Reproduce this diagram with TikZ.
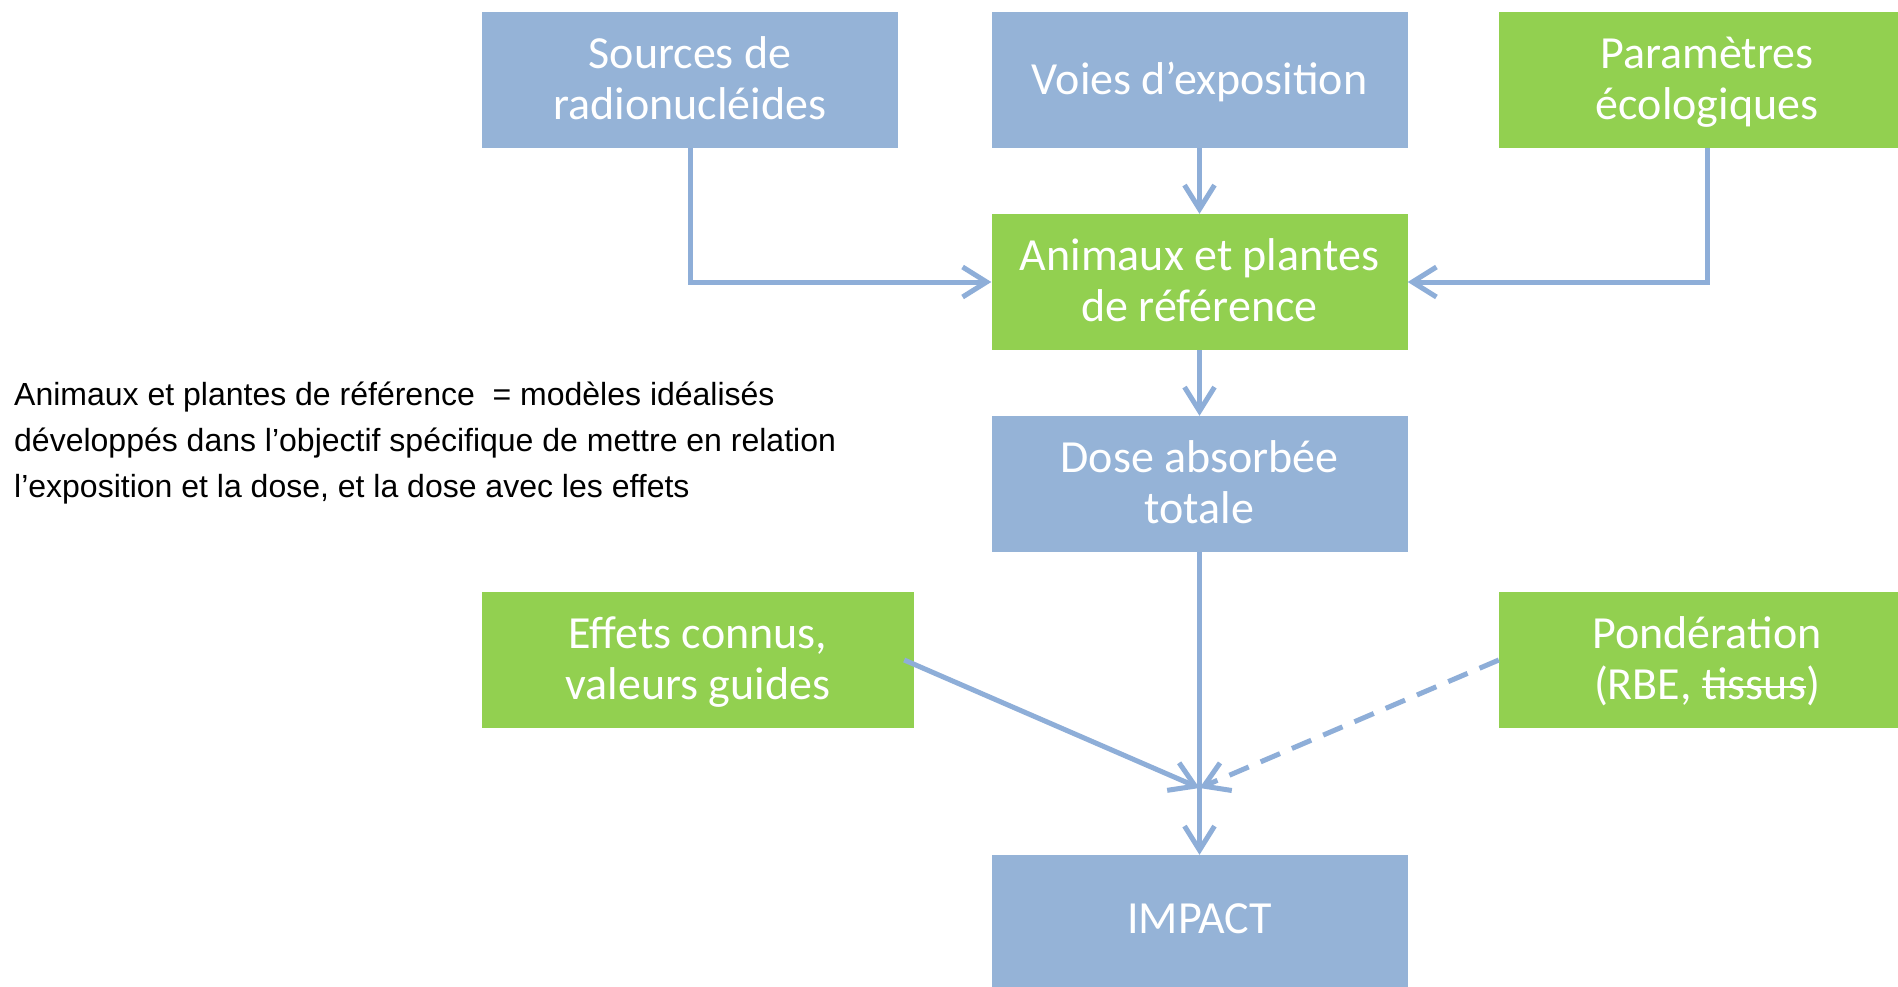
\documentclass[tikz,border=0pt]{standalone}
\usepackage{fontspec}
\setmainfont{Carlito}
\newfontfamily\arialf{Liberation Sans}
\usetikzlibrary{arrows.meta}
\definecolor{boxblue}{HTML}{95B3D7}
\definecolor{boxgreen}{HTML}{92D050}
\definecolor{linkblue}{HTML}{8EAED8}
\newcommand\mystrike[1]{\setbox0\hbox{#1}\rlap{\copy0}\rule[0.24em]{\wd0}{0.05em}}
\begin{document}
\begin{tikzpicture}[x=1pt,y=-1pt,
  box/.style={minimum width=416pt, minimum height=136pt, inner sep=0pt, text=white,
    font=\fontsize{46}{51}\selectfont, align=center, text depth=4pt},
  link/.style={draw=linkblue, line width=5pt,
    -{Straight Barb[length=24pt,width=30pt]}},
  dashlink/.style={link, dash pattern=on 21pt off 13pt}
]
\useasboundingbox (0,0) rectangle (1898,987);
\fill[white] (0,0) rectangle (1898,987);
\node[box,fill=boxblue] (src) at (690,80) {Sources de\\radionucléides};
\node[box,fill=boxblue] (voies) at (1199.5,80) {Voies d’exposition};
\node[box,fill=boxgreen] (param) at (1707,80) {Paramètres\\écologiques};
\node[box,fill=boxgreen] (anim) at (1199.5,282) {Animaux et plantes\\de référence};
\node[box,fill=boxblue] (dose) at (1199.5,484) {Dose absorbée\\totale};
\node[box,fill=boxgreen,minimum width=432pt] (eff) at (698,660) {Effets connus,\\valeurs guides};
\node[box,fill=boxgreen] (pond) at (1707,660) {Pondération\\(RBE, \mystrike{tissus})};
\node[box,fill=boxblue,minimum height=132pt] (imp) at (1199.5,921) {IMPACT};
\coordinate (m) at (1199.5,788);
\node[anchor=west, inner sep=0pt, align=left, font=\arialf\fontsize{32}{46}\selectfont] (note) at (14,443)
  {Animaux et plantes de référence\ \ = modèles idéalisés\\
   développés dans l’objectif spécifique de mettre en relation\\
   l’exposition et la dose, et la dose avec les effets};
\draw[link] (src.south) |- (anim.west);
\draw[link] (param.south) |- (anim.east);
\draw[link] (voies.south) -- (anim.north);
\draw[link] (anim.south) -- (dose.north);
\draw[link] (dose.south) -- (imp.north);
\draw[link] ([xshift=-10pt]eff.east) -- (m);
\draw[dashlink] (pond.west) -- (m);
\end{tikzpicture}
\end{document}
